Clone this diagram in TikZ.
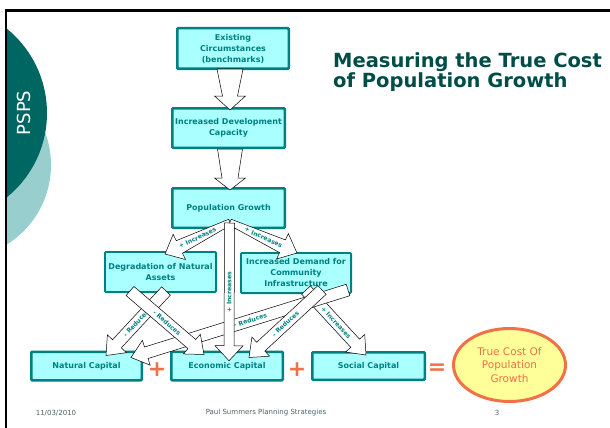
\documentclass[tikz,border=0pt]{standalone}
\usepackage{fontspec}
\setmainfont{DejaVu Sans}
\usetikzlibrary{calc,shapes.geometric}

\definecolor{pspsdark}{RGB}{0,102,98}
\definecolor{pspslight}{RGB}{153,206,206}
\definecolor{boxfill}{RGB}{170,255,255}
\definecolor{boxline}{RGB}{0,128,128}
\definecolor{boxtext}{RGB}{0,128,128}
\definecolor{titleteal}{RGB}{0,77,72}
\definecolor{costorange}{RGB}{240,112,72}
\definecolor{costfill}{RGB}{255,255,153}
\definecolor{footgray}{RGB}{70,100,100}

% block arrow: name, tail, tip, tail half width, neck half width, head half width, head length
\newcommand{\flowarrow}[7]{%
  \coordinate (#1-s) at #2;
  \coordinate (#1-e) at #3;
  \coordinate (#1-h) at ($(#1-e)!#7!(#1-s)$);
  \filldraw[blockarrow]
    ($(#1-s)!#4!90:(#1-e)$) -- ($(#1-h)!#5!-90:(#1-s)$) -- ($(#1-h)!#6!-90:(#1-s)$)
    -- (#1-e) -- ($(#1-h)!#6!90:(#1-s)$) -- ($(#1-h)!#5!90:(#1-s)$)
    -- ($(#1-s)!#4!-90:(#1-e)$) -- cycle;
}

\begin{document}
\begin{tikzpicture}[x=1pt, y=-1pt,
    stage/.style={draw=boxline, line width=2.5pt, fill=boxfill, rounded corners=1pt,
      align=center, text=boxtext, inner sep=1pt,
      font=\bfseries\fontsize{8}{11}\selectfont},
    effect/.style={stage, line width=1.8pt},
    blockarrow/.style={draw=black, fill=white, line width=0.5pt, line join=miter},
    arrowlabel/.style={font=\bfseries\fontsize{6.2}{7}\selectfont, text=boxtext, inner sep=0.5pt},
    sumsign/.style={text=costorange, font=\bfseries\fontsize{22}{22}\selectfont, inner sep=0},
    footer/.style={text=footgray, font=\fontsize{7}{8}\selectfont, inner sep=0}]
  \useasboundingbox (0,0) rectangle (610,428);

  % side tab
  \begin{scope}
    \clip (6,10) rectangle (610,428);
    \fill[pspslight] (-42.6,165) circle (93.6pt);
    \fill[pspsdark] (-61.6,113) circle (108.6pt);
  \end{scope}
  \node[rotate=90, text=white, font=\fontsize{18}{18}\selectfont, inner sep=0] (psps) at (24,113) {PSPS};

  % slide frame
  \draw[line width=3pt] (4.5,10.5) -- (610,10.5);
  \draw[line width=2.5pt] (6,9) -- (6,428);

  % title
  \node[anchor=north west, align=left, inner sep=0, text=titleteal,
    font=\bfseries\fontsize{19.5}{20}\selectfont] (title) at (333,52)
    {Measuring the True Cost\\of Population Growth};

  % boxes
  \node[stage, minimum width=111.5pt, minimum height=40.5pt] (ex) at (233,48.5)
    {Existing\\Circumstances\\(benchmarks)};
  \node[stage, minimum width=112.5pt, minimum height=39.5pt] (dev) at (228.5,128)
    {Increased Development\\Capacity};
  \node[stage, minimum width=112.5pt, minimum height=39.5pt] (pg) at (228.5,208)
    {Population Growth};
  \node[effect, minimum width=111.2pt, minimum height=40.2pt] (deg) at (160.5,272)
    {Degradation of Natural\\Assets};
  \node[effect, minimum width=110.2pt, minimum height=40.2pt] (dem) at (296,273)
    {Increased Demand for\\Community\\Infrastructure};
  \node[stage, minimum width=110.5pt, minimum height=28.5pt] (nat) at (86.5,366) {Natural Capital};
  \node[stage, minimum width=111.5pt, minimum height=28.5pt] (econ) at (227,366) {Economic Capital};
  \node[stage, minimum width=112.5pt, minimum height=27.5pt] (soc) at (368.5,366) {Social Capital};
  \node[ellipse, draw=costorange, line width=3pt, fill=costfill, text=costorange,
    minimum width=112pt, minimum height=73pt, inner sep=0, align=center,
    font=\fontsize{10.5}{13.5}\selectfont] (cost) at (509.5,365)
    {True Cost Of\\Population\\Growth};

  % arrows down the chain
  \flowarrow{a1}{($(ex.south)+(-3,-1)$)}{($(dev.north)+(1.5,3)$)}{13pt}{7.5pt}{15.5pt}{14pt}
  \flowarrow{a2}{($(dev.south)+(1.5,0)$)}{($(pg.north)+(1.5,3)$)}{12.5pt}{8pt}{15.5pt}{12pt}

  % effects of the demand for infrastructure
  \flowarrow{ds}{($(dem.south)+(10,-4)$)}{($(soc.north)+(-2.5,4)$)}{6pt}{6pt}{13pt}{16pt}
  \path (ds-s) -- (ds-e) node[arrowlabel, midway, sloped] {+ Increases};
  \flowarrow{dn}{($(dem.south)+(52,-4)$)}{($(nat.north)+(44.5,7)$)}{6pt}{6pt}{13pt}{16pt}
  \path (dn-s) -- (dn-e) node[arrowlabel, pos=0.45, sloped] {- Reduces};
  \flowarrow{de}{($(dem.south)+(26,-4)$)}{($(econ.north)+(22,7)$)}{6pt}{6pt}{13pt}{16pt}
  \path (de-s) -- (de-e) node[arrowlabel, midway, sloped] {- Reduces};

  % effects of the degradation
  \flowarrow{gn}{($(deg.south)+(5.5,-2)$)}{($(nat.north)+(19.5,5)$)}{6pt}{6pt}{13pt}{16pt}
  \path (gn-s) -- (gn-e) node[arrowlabel, midway, sloped] {- Reduces};
  \flowarrow{ge}{($(deg.south)+(-30.5,-2)$)}{($(econ.north)+(-23,4)$)}{6pt}{6pt}{13pt}{16pt}
  \path (ge-s) -- (ge-e) node[arrowlabel, midway, sloped] {- Reduces};

  % out of population growth
  \flowarrow{pd}{($(pg.south)+(1.5,-7)$)}{($(deg.north)+(4.5,3)$)}{3pt}{7pt}{14pt}{16pt}
  \path (pd-s) -- (pd-e) node[arrowlabel, midway, sloped] {+ Increases};
  \flowarrow{pm}{($(pg.south)+(1.5,-7)$)}{($(dem.north)+(1,1)$)}{3pt}{7pt}{14pt}{16pt}
  \path (pm-s) -- (pm-e) node[arrowlabel, midway, sloped] {+ Increases};
  \flowarrow{pe}{($(pg.south)+(1,-6)$)}{($(econ.north)+(2,10.25)$)}{5pt}{5pt}{14pt}{15pt}
  \node[arrowlabel, rotate=90] (pe-l) at ($(pe-s)!0.5!(pe-e)$) {+ Increases};

  % the sum
  \node[sumsign] (plus1) at (157,370) {+};
  \node[sumsign] (plus2) at (297,370) {+};
  \node[sumsign] (equals) at (437,369) {=};

  % footer
  \node[footer] (date) at (56,413) {11/03/2010};
  \node[footer] (org) at (266,413) {Paul Summers Planning Strategies};
  \node[footer] (page) at (497,413) {3};
\end{tikzpicture}
\end{document}
